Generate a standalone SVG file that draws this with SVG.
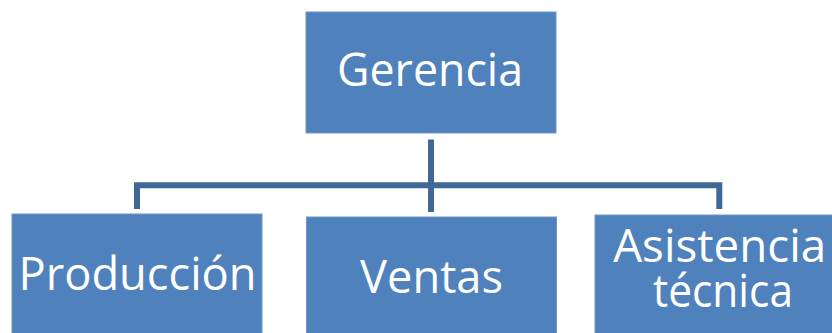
<svg xmlns="http://www.w3.org/2000/svg" width="832" height="333" viewBox="0 0 832 333">
<style>
.box{fill:#4F81BD;stroke:#6F97C8;stroke-width:1}
.lbl{font-family:"Open Sans","Liberation Sans",sans-serif;font-size:46px;fill:#FFFFFF;text-anchor:middle}
.conn{stroke:#3F6896;stroke-width:6;fill:none;stroke-linejoin:miter;stroke-linecap:butt}
</style>
<rect width="832" height="333" fill="#FFFFFF"/>
<g id="connectors">
<path class="conn" d="M137,209 V185.3 H719.3 V209"/>
<path class="conn" d="M431,139.5 V212"/>
</g>
<g id="gerencia">
<rect class="box" x="306" y="12" width="250" height="121"/>
<text class="lbl" x="430" y="86" textLength="186" lengthAdjust="spacingAndGlyphs">Gerencia</text>
</g>
<g id="produccion">
<rect class="box" x="12" y="214" width="250" height="130"/>
<text class="lbl" x="137.5" y="290" textLength="238" lengthAdjust="spacingAndGlyphs">Producción</text>
</g>
<g id="ventas">
<rect class="box" x="306.5" y="217" width="250" height="130"/>
<text class="lbl" x="431.5" y="293" textLength="143" lengthAdjust="spacingAndGlyphs">Ventas</text>
</g>
<g id="asistencia">
<rect class="box" x="595" y="215" width="250" height="130"/>
<text class="lbl" x="719.7" y="261.5" textLength="213" lengthAdjust="spacingAndGlyphs">Asistencia</text>
<text class="lbl" x="723" y="306.5" textLength="140" lengthAdjust="spacingAndGlyphs">técnica</text>
</g>
</svg>
